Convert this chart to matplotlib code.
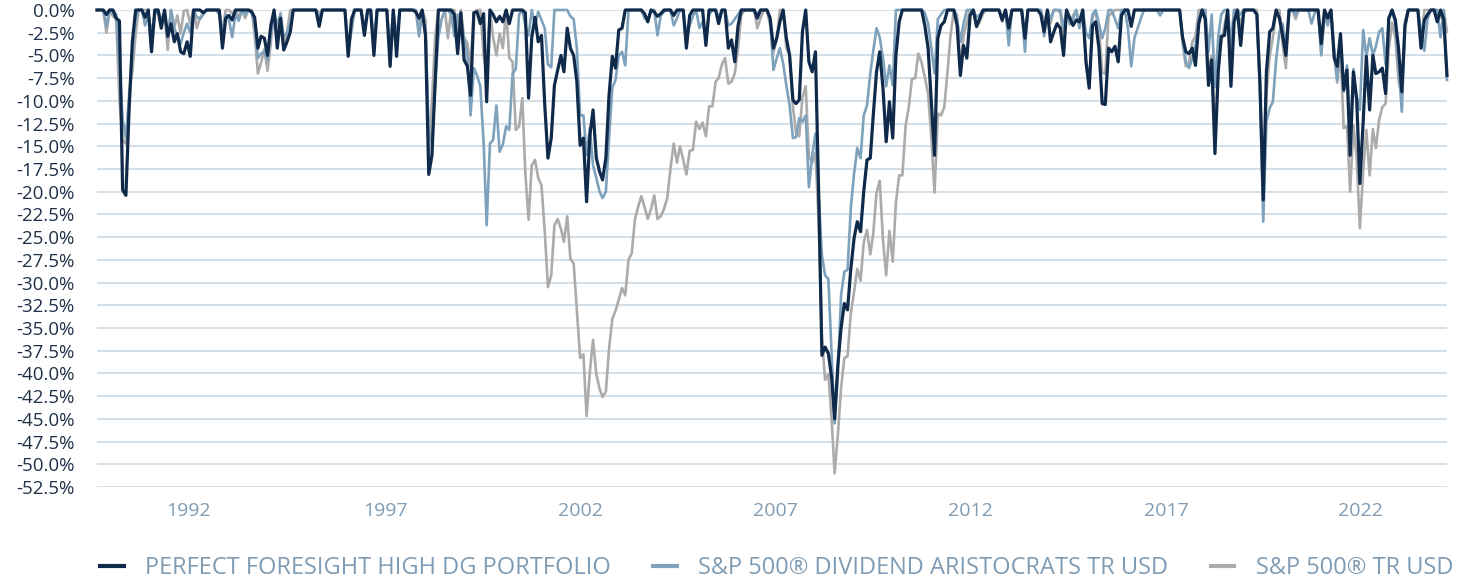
import numpy as np
import pandas as pd
import matplotlib
matplotlib.use('Agg')
import matplotlib.pyplot as plt
from matplotlib.lines import Line2D

# monthly drawdowns in %, Jan 1990 .. Dec 2024, one row per year
foresight = [
    0, 0, 0, -0.5, 0, 0, -0.9, -1.2, -19.8, -20.4, -11.0, -3.5,          # 1990
    0, 0, 0, -0.8, 0, -4.6, 0, 0, -2.0, 0, -2.9, -1.5,                   # 1991
    -3.5, -2.6, -4.6, -4.8, -3.5, -5.1, 0, 0, 0, -0.3, 0, 0,             # 1992
    0, 0, 0, -4.2, -0.9, -0.6, -1.1, 0, 0, 0, 0, 0,                      # 1993
    -0.2, -0.8, -4.2, -2.9, -3.1, -5.0, -1.7, 0, -4.2, -0.9, -4.4, -3.5, # 1994
    -2.4, 0, 0, 0, 0, 0, 0, 0, 0, -1.8, 0, 0,                            # 1995
    0, 0, 0, 0, 0, 0, -5.1, -1.0, 0, 0, 0, -2.8,                         # 1996
    0, 0, -5.0, 0, 0, 0, 0, -6.2, 0, -5.1, 0, 0,                         # 1997
    0, 0, 0, -0.2, -0.9, 0, -2.8, -18.1, -16.0, -8.0, 0, 0,              # 1998
    0, 0, 0, -0.5, -4.8, -0.3, -5.5, -6.2, -9.4, -0.3, -0.2, -1.5,       # 1999
    -0.4, -10.1, 0, -0.5, -1.3, -0.7, -1.3, 0, -1.5, 0, 0, 0,            # 2000
    0, -0.3, -9.7, -3.0, -0.8, -3.5, -2.8, -10.5, -16.3, -14.1, -8.3, -6.6,       # 2001
    -5.0, -6.8, -2.0, -4.2, -5.0, -7.9, -14.9, -14.1, -21.1, -13.8, -11.0, -16.3, # 2002
    -17.8, -18.7, -16.3, -9.4, -5.1, -6.4, -2.2, -2.0, 0, 0, 0, 0,       # 2003
    0, 0, -0.4, -1.3, 0, -0.2, -0.7, -0.4, 0, 0, 0, -0.6,                # 2004
    0, 0, 0, -4.2, -0.6, 0, 0, 0, 0, -3.9, 0, 0,                         # 2005
    0, -1.5, 0, 0, -4.2, -3.3, -5.7, -1.7, 0, 0, 0, 0,                   # 2006
    0, -0.9, 0, 0, 0, -0.9, -4.2, -3.1, -1.3, 0, -3.1, -5.0,             # 2007
    -9.9, -10.3, -9.9, -2.4, 0, -5.7, -6.8, -4.6, -20.0, -38.0, -37.1, -37.8,       # 2008
    -40.5, -45.0, -39.0, -35.0, -32.3, -33.0, -28.5, -25.1, -23.3, -24.4, -20.0, -16.5, # 2009
    -16.3, -11.6, -6.8, -4.6, -8.6, -14.5, -10.1, -14.1, -5.0, -1.3, 0, 0,   # 2010
    0, 0, 0, 0, 0, -1.7, -4.2, -10.1, -16.0, -3.1, -1.7, -1.3,           # 2011
    0, 0, 0, -1.7, -7.2, -3.9, -5.3, -0.6, 0, -1.8, -0.9, 0,             # 2012
    0, 0, 0, 0, 0, -1.1, 0, -2.0, 0, 0, 0, 0,                            # 2013
    -3.1, 0, 0, 0, 0, -0.5, -2.4, 0, -3.5, -2.4, -1.5, -2.0,             # 2014
    -5.0, 0, -0.9, -1.7, -1.1, -1.3, 0, -5.7, -8.6, -1.7, -1.3, -4.2,    # 2015
    -10.3, -10.4, -4.2, -4.6, -4.0, -5.7, -0.6, 0, 0, -1.8, 0, 0,        # 2016
    0, 0, 0, 0, 0, 0, 0, 0, 0, 0, 0, 0,                                  # 2017
    0, -3.0, -4.6, -4.8, -4.2, -6.1, -1.5, 0, -1.0, -8.3, -5.5, -15.8,   # 2018
    -6.8, -2.9, -2.8, 0, -8.4, -1.3, 0, -3.9, 0, 0, 0, 0,                # 2019
    -0.5, -8.0, -20.9, -6.8, -2.4, -2.0, 0, -0.9, -2.8, -5.0, 0, 0,      # 2020
    0, 0, 0, 0, 0, 0, 0, 0, -3.7, 0, -0.9, 0,                            # 2021
    -5.3, -6.2, -2.6, -8.8, -6.6, -16.0, -6.8, -9.9, -19.1, -12.3, -5.1, -11.0, # 2022
    -5.0, -7.0, -6.8, -6.4, -9.2, -0.9, 0, -1.1, -4.2, -9.0, -1.7, 0,    # 2023
    0, 0, 0, -4.2, -1.1, -0.5, 0, 0, -1.3, 0, -1.0, -7.2,                # 2024
]

aristocrats = [
    0, 0, 0, -1.8, 0, 0, -0.5, -6.0, -12.0, -14.0, -10.0, -4.5,          # 1990
    -1.0, 0, 0, -1.7, -0.5, -2.5, -0.5, 0, -1.0, -0.3, -3.0, 0,          # 1991
    -2.0, -2.9, -3.7, -2.5, -1.5, -2.5, 0, -0.8, -1.0, -0.5, 0, 0,       # 1992
    0, 0, -0.5, -2.5, -0.5, -1.0, -3.0, -0.5, -1.2, 0, -0.5, 0,          # 1993
    -0.3, -1.5, -5.3, -4.8, -4.6, -5.5, -2.8, -0.5, -1.5, -0.5, -3.0, -2.5, # 1994
    -1.5, 0, 0, 0, 0, 0, 0, 0, 0, -1.0, 0, 0,                            # 1995
    0, 0, 0, 0, 0, 0, -4.0, -2.0, 0, 0, 0, -2.0,                         # 1996
    0, 0, -3.5, 0, 0, 0, 0, -4.5, 0, -3.0, 0, 0,                         # 1997
    0, 0, 0, 0, -2.9, -0.5, -2.0, -13.5, -14.5, -8.0, -3.0, -1.0,        # 1998
    0, 0, -0.5, -2.9, -0.5, -1.0, -3.1, -5.0, -11.6, -6.4, -7.2, -8.4,   # 1999
    -14.5, -23.7, -14.7, -14.3, -10.5, -15.6, -14.8, -12.8, -13.2, -7.0, -6.5, -0.5, # 2000
    0, -1.7, -2.8, 0, -1.7, -0.2, -1.1, -2.0, -6.0, -6.3, 0, 0,          # 2001
    0, 0, 0, -0.7, -1.0, -4.2, -11.6, -11.6, -16.0, -13.0, -17.1, -18.5, # 2002
    -20.0, -20.7, -20.0, -14.1, -8.6, -7.7, -5.0, -4.6, -6.1, 0, 0, 0,   # 2003
    0, 0, -0.9, -1.1, 0, 0, -2.8, -0.6, -0.2, 0, 0, -1.7,                # 2004
    -0.9, 0, 0, -3.1, -1.7, -0.7, 0, -2.0, -1.3, -3.1, -0.5, 0,          # 2005
    0, -0.8, 0, 0, -1.7, -1.5, -1.0, -0.5, 0, 0, 0, 0,                   # 2006
    0, -0.5, 0, 0, 0, -1.0, -6.6, -5.3, -4.2, -5.9, -8.3, -10.5,         # 2007
    -14.1, -14.0, -11.9, -12.3, -11.6, -19.5, -16.0, -13.6, -20.0, -27.0, -29.2, -29.6, # 2008
    -38.0, -45.5, -40.0, -31.4, -28.8, -28.6, -21.8, -18.0, -15.2, -16.3, -11.6, -10.5, # 2009
    -7.0, -4.5, -2.0, -3.0, -5.3, -8.4, -6.1, -8.3, 0, 0, 0, 0,          # 2010
    0, 0, 0, 0, 0, -0.3, -1.5, -4.2, -7.0, -1.0, -0.5, 0,                # 2011
    0, 0, 0, -1.0, -3.5, -1.5, 0, 0, 0, -0.8, -0.5, 0,                   # 2012
    0, 0, 0, 0, 0, -1.0, 0, -3.9, 0, 0, 0, 0,                            # 2013
    -4.6, 0, 0, 0, 0, 0, -2.9, 0, -1.0, 0, 0, 0,                         # 2014
    -2.0, 0, -1.5, -1.0, 0, -2.0, 0, -2.5, -3.1, -0.5, 0, -1.5,          # 2015
    -3.1, -2.0, 0, 0, -1.0, -2.0, 0, 0, -2.0, -6.2, -3.1, -2.0,          # 2016
    -0.9, 0, 0, 0, 0, 0, -0.6, 0, 0, 0, 0, 0,                            # 2017
    0, -3.0, -5.7, -6.4, -5.3, -3.9, -1.0, 0, 0, -4.6, -0.5, -8.5,       # 2018
    -3.0, -0.5, 0, 0, -3.5, 0, 0, -0.5, 0, 0, 0, 0,                      # 2019
    -0.5, -9.0, -23.3, -12.3, -10.8, -10.1, -5.5, -2.4, -1.5, -4.0, 0, 0,  # 2020
    -0.5, 0, 0, 0, 0, -1.5, -0.3, 0, -5.0, -0.5, -1.7, 0,                # 2021
    -4.6, -7.7, -3.0, -9.0, -6.1, -14.1, -6.5, -9.5, -11.0, -2.2, -5.1, -3.1, # 2022
    -5.0, -4.0, -2.4, -2.0, -6.0, -1.0, 0, -1.5, -6.0, -11.2, -2.0, 0,   # 2023
    0, 0, 0, -2.3, -4.5, -1.0, 0, 0, 0, -3.0, 0, -7.7,                   # 2024
]

sp500 = [
    0, 0, 0, -2.5, 0, -0.7, -1.0, -9.9, -14.3, -14.7, -9.2, -6.8,        # 1990
    -2.7, 0, 0, 0, 0, -4.6, -0.1, 0, -1.7, -0.4, -4.4, 0,                # 1991
    -1.9, -0.6, -2.6, -0.1, 0, -1.5, 0, -2.0, -0.8, -0.4, 0, 0,          # 1992
    0, 0, 0, -2.4, 0, 0, -0.4, 0, -0.8, 0, -0.9, 0,                      # 1993
    0, -2.7, -7.0, -5.8, -4.3, -6.7, -3.6, 0, -2.5, -0.3, -3.9, -2.4,    # 1994
    0, 0, 0, 0, 0, 0, 0, 0, 0, -0.4, 0, 0,                               # 1995
    0, 0, 0, 0, 0, 0, -4.4, -2.4, 0, 0, 0, -2.0,                         # 1996
    0, 0, -4.1, 0, 0, 0, 0, -5.6, -0.4, -3.7, 0, 0,                      # 1997
    0, 0, 0, 0, -1.7, 0, -1.1, -15.5, -10.1, -2.9, 0, 0,                 # 1998
    0, -3.1, 0, 0, -2.4, 0, -3.1, -3.6, -6.2, -0.3, 0, 0,                # 1999
    -5.0, -6.8, 0, -3.0, -5.0, -2.6, -4.2, 0, -5.3, -5.7, -13.2, -12.8,  # 2000
    -9.7, -17.9, -23.1, -17.1, -16.5, -18.5, -19.3, -24.4, -30.5, -29.2, -23.7, -23.0, # 2001
    -24.1, -25.5, -22.7, -27.4, -27.9, -33.1, -38.3, -37.9, -44.7, -39.8, -36.3, -40.1, # 2002
    -41.7, -42.6, -42.0, -37.3, -34.0, -33.1, -31.9, -30.6, -31.4, -27.5, -26.8, -23.0, # 2003
    -21.6, -20.5, -21.7, -23.0, -21.9, -20.4, -23.0, -22.7, -21.9, -20.7, -17.5, -14.7, # 2004
    -16.8, -15.0, -16.5, -18.1, -15.5, -15.4, -12.3, -13.1, -12.4, -13.9, -10.6, -10.6, # 2005
    -7.9, -7.5, -6.0, -5.3, -8.1, -7.9, -7.0, -4.2, -0.6, 0, 0, 0,       # 2006
    0, -2.0, -0.9, 0, 0, -1.7, -4.7, -3.3, 0, 0, -4.2, -4.9,             # 2007
    -10.6, -13.5, -13.9, -9.6, -8.4, -16.1, -16.8, -15.7, -23.2, -36.1, -40.7, -40.1, # 2008
    -45.1, -51.0, -46.7, -41.6, -38.3, -38.1, -33.4, -31.0, -28.5, -29.8, -25.6, -24.2, # 2009
    -26.9, -24.6, -20.1, -18.8, -25.3, -29.2, -24.3, -27.7, -21.2, -18.2, -18.2, -12.7, # 2010
    -10.6, -7.6, -7.5, -4.8, -5.8, -7.4, -9.2, -14.1, -20.1, -11.4, -11.6, -10.7,      # 2011
    -6.7, -2.7, 0, -0.6, -6.6, -2.8, -1.4, 0, 0, -1.9, -1.3, -0.4,       # 2012
    0, 0, 0, 0, 0, -1.3, 0, -2.9, 0, 0, 0, 0,                            # 2013
    -3.5, 0, 0, 0, 0, 0, -1.4, 0, -1.4, 0, 0, -0.3,                      # 2014
    -3.1, 0, -1.6, -0.6, 0, -1.9, 0, -6.0, -8.4, -0.7, -0.4, -2.0,       # 2015
    -6.9, -7.0, -0.7, -0.3, 0, 0, 0, 0, 0, -1.8, 0, 0,                   # 2016
    0, 0, 0, 0, 0, 0, 0, 0, 0, 0, 0, 0,                                  # 2017
    0, -3.7, -6.2, -5.8, -3.5, -2.9, 0, 0, 0, -6.8, -5.0, -13.5,         # 2018
    -6.6, -3.6, -1.7, 0, -6.4, 0, 0, -1.6, -0.3, 0, 0, 0,                # 2019
    0, -8.3, -19.6, -9.3, -5.0, -3.1, 0, 0, -3.8, -6.4, 0, 0,            # 2020
    -1.0, 0, 0, 0, 0, 0, 0, 0, -4.7, 0, -0.7, 0,                         # 2021
    -5.2, -8.0, -4.6, -13.0, -12.8, -20.0, -12.7, -16.3, -24.0, -17.8, -13.2, -18.2, # 2022
    -13.1, -15.2, -12.1, -10.7, -10.3, -4.4, -1.4, -3.0, -7.7, -9.6, -1.3, 0,        # 2023
    0, 0, 0, -4.1, 0, 0, 0, 0, 0, -0.9, 0, -2.4,                         # 2024
]

series_names = ['PERFECT FORESIGHT HIGH DG PORTFOLIO',
                'S&P 500® DIVIDEND ARISTOCRATS TR USD',
                'S&P 500® TR USD']
tick_years = [1992, 1997, 2002, 2007, 2012, 2017, 2022]
# where the year labels sit on the time axis
tick_dates = ['1992-06-15', '1997-07-15', '2002-08-05', '2007-08-20',
              '2012-09-05', '2017-09-25', '2022-10-05']

navy = '#0f2a4a'
steel = '#7fa2bc'
grey = '#ababab'
label_blue = '#7f9cb4'

plt.rcParams['font.family'] = ['Open Sans', 'DejaVu Sans']

dates = pd.date_range('1990-01-31', periods=len(foresight), freq='ME')

fig = plt.figure(figsize=(14.65, 5.8), dpi=100)
ax = fig.add_axes([97 / 1465, 1 - 487 / 580, (1447 - 97) / 1465, 477 / 580])

ax.plot(dates, sp500, color=grey, lw=1.9, zorder=3, clip_on=False)
ax.plot(dates, aristocrats, color=steel, lw=1.9, zorder=4, clip_on=False)
ax.plot(dates, foresight, color=navy, lw=2.3, zorder=5, clip_on=False)

ax.set_xlim(dates[0], dates[-1])
ax.set_ylim(-52.5, 0)
yt = np.arange(-52.5, 0.01, 2.5)
ax.set_yticks(yt)
ax.set_yticklabels([f'{v:.1f}%' for v in yt], color='#1f3048', fontsize=13.5)
ax.set_xticks(pd.to_datetime(tick_dates))
ax.set_xticklabels([str(y) for y in tick_years], color=label_blue, fontsize=14)
ax.tick_params(axis='both', length=0)
ax.tick_params(axis='y', pad=16)
ax.tick_params(axis='x', pad=11)
ax.grid(axis='y', color='#c9d6e0', lw=1.1)
ax.set_axisbelow(True)
for s in ax.spines.values():
    s.set_visible(False)

handles = [Line2D([], [], color=c, lw=3) for c in (navy, steel, grey)]
leg = fig.legend(handles, series_names, loc='center left',
                 bbox_to_anchor=(100 / 1465, 1 - 568 / 580), ncol=3, frameon=False,
                 fontsize=17, handlelength=1.0, handletextpad=0.9,
                 columnspacing=1.8, borderpad=0, borderaxespad=0)
for t in leg.get_texts():
    t.set_color(label_blue)

fig.savefig('out.png', dpi=100)
